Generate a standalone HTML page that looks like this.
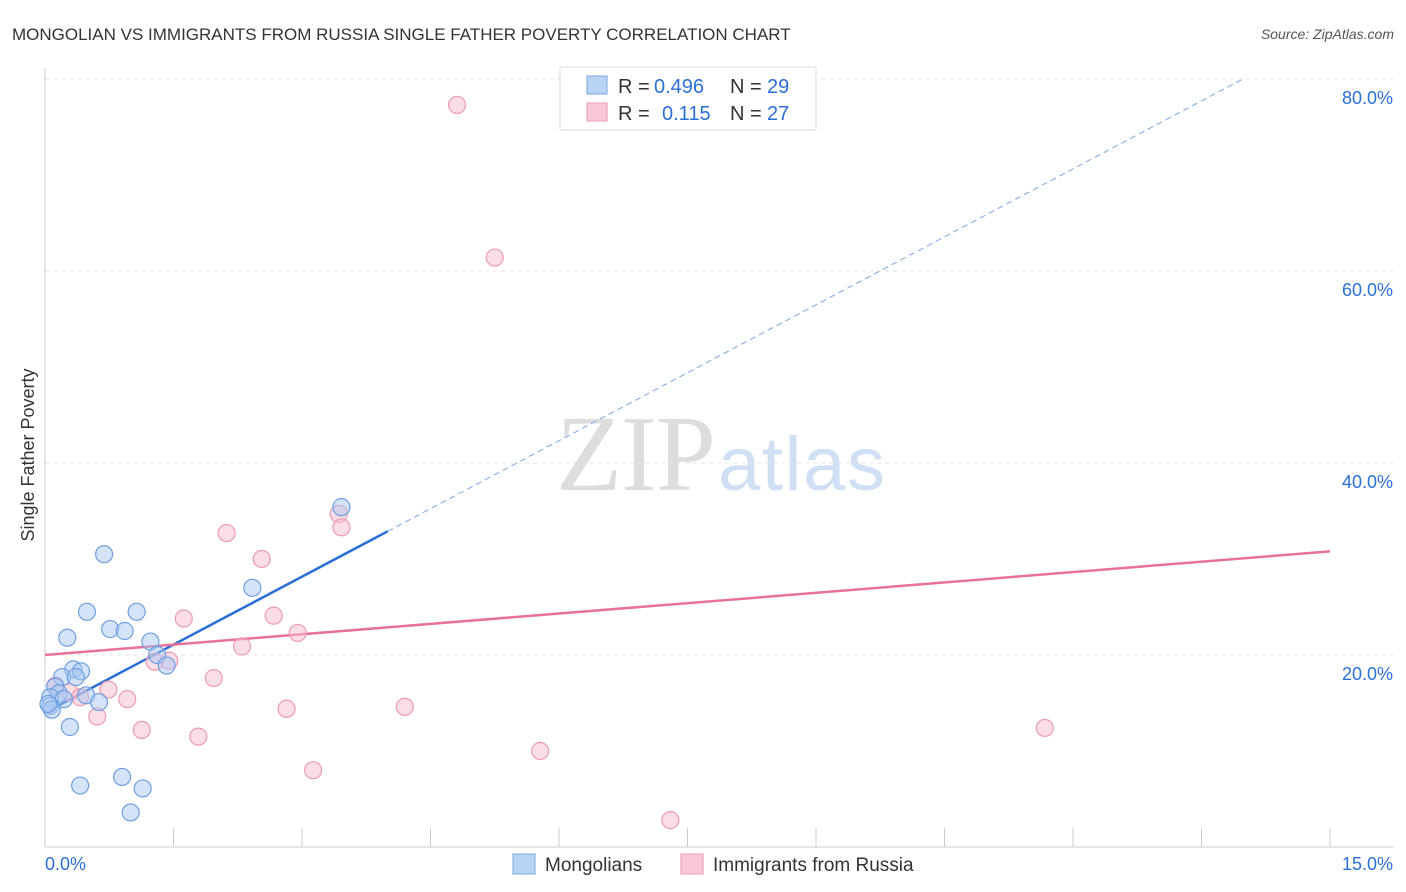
<!DOCTYPE html>
<html><head><meta charset="utf-8"><style>
body{margin:0;background:#fff;font-family:"Liberation Sans",sans-serif}
svg{display:block}
</style></head><body>
<svg id="chart" width="1406" height="892">
<text x="12" y="40" font-size="17" fill="#333">MONGOLIAN VS IMMIGRANTS FROM RUSSIA SINGLE FATHER POVERTY CORRELATION CHART</text>
<text x="1394" y="39" font-size="14" fill="#555" font-style="italic" text-anchor="end">Source: ZipAtlas.com</text>
<text x="716" y="490" font-size="108" fill="#ddd" font-family="Liberation Serif" text-anchor="end" textLength="160">ZIP</text>
<text x="718" y="490" font-size="76" fill="#cfe0f5" textLength="167">atlas</text>
<g id="grid"></g><g id="axes"></g><g id="lines"></g><g id="pts"></g>
<text transform="translate(34,455) rotate(-90)" font-size="18" fill="#333" text-anchor="middle">Single Father Poverty</text>
<g>
<rect x="560" y="67" width="256" height="63" fill="#fff" stroke="#ddd"/>
<rect x="587" y="76" width="20" height="18" fill="#b9d3f5" stroke="#7aa7e0"/>
<rect x="587" y="103" width="20" height="18" fill="#f9c8d6" stroke="#ec9ab3"/>
<text x="618" y="93" font-size="20" fill="#333">R =</text>
<text x="654" y="93" font-size="20" fill="#2b6fd6">0.496</text>
<text x="730" y="93" font-size="20" fill="#333">N =</text>
<text x="767" y="93" font-size="20" fill="#2b6fd6">29</text>
<text x="618" y="120" font-size="20" fill="#333">R =</text>
<text x="662" y="120" font-size="20" fill="#2b6fd6">0.115</text>
<text x="730" y="120" font-size="20" fill="#333">N =</text>
<text x="767" y="120" font-size="20" fill="#2b6fd6">27</text>
</g>
<g>
<rect x="513" y="854" width="22" height="20" fill="#b9d3f5" stroke="#7aa7e0"/>
<text x="545" y="871" font-size="19" fill="#333">Mongolians</text>
<rect x="681" y="854" width="22" height="20" fill="#f9c8d6" stroke="#ec9ab3"/>
<text x="713" y="871" font-size="19" fill="#333">Immigrants from Russia</text>
</g>
</svg>
<script>
const xTicks=[0,1.5,3,4.5,6,7.5,9,10.5,12,13.5,15];
const yTicks=[20,40,60,80];
const yTickLabels=["20.0%","40.0%","60.0%","80.0%"];
const xEndLabels=["0.0%","15.0%"];
const blueX=[3.46,0.69,2.42,0.49,1.07,0.76,0.93,0.26,1.23,1.31,1.42,0.33,0.42,0.20,0.36,0.12,0.16,0.48,0.06,0.63,0.22,0.06,0.08,0.29,0.90,0.41,1.14,1.00,0.04];
const blueY=[35.4,30.5,27.0,24.5,24.5,22.7,22.5,21.8,21.4,20.0,18.9,18.5,18.3,17.7,17.7,16.7,16.0,15.8,15.6,15.1,15.4,14.7,14.3,12.5,7.3,6.4,6.1,3.6,14.9];
const pinkX=[4.81,5.25,3.43,3.46,2.12,2.53,2.67,1.62,2.95,2.30,1.45,1.28,1.97,0.12,0.74,0.29,0.41,0.96,4.20,2.82,0.61,1.13,1.79,11.67,5.78,3.13,7.30];
const pinkY=[77.3,61.4,34.7,33.3,32.7,30.0,24.1,23.8,22.3,20.9,19.4,19.3,17.6,16.8,16.4,16.1,15.6,15.4,14.6,14.4,13.6,12.2,11.5,12.4,10.0,8.0,2.8];
const blueTrend=[14.0,4.72];
const pinkTrend=[20.0,0.72];
const X=v=>45+v*(1285/15), Y=v=>847-v*9.6;
const NS="http://www.w3.org/2000/svg";
function mk(p,t,a){const e=document.createElementNS(NS,t);for(const k in a)e.setAttribute(k,a[k]);document.getElementById(p).appendChild(e);return e;}
yTicks.forEach((t,i)=>{
 const g=mk('grid','line',{x1:45,x2:1394,y1:Y(t),y2:Y(t),stroke:'#e3e3e3','stroke-dasharray':'4,4'});
 
 
 const l=mk('axes','text',{x:1393,y:Y(t)+25,'font-size':18,fill:'#2b6fd6','text-anchor':'end'});l.textContent=yTickLabels[i];
 
 
});
const ax=mk('axes','line',{x1:45,x2:45,y1:68,y2:847,stroke:'#ccc'});


const bx=mk('axes','line',{x1:45,x2:1394,y1:847,y2:847,stroke:'#ccc'});


xTicks.forEach(t=>{const e=mk('axes','line',{x1:X(t),x2:X(t),y1:828,y2:847,stroke:'#ccc'});
 
 });
const l0=mk('axes','text',{x:45,y:870,'font-size':18,fill:'#2b6fd6'});l0.textContent=xEndLabels[0];


const l1=mk('axes','text',{x:1393,y:870,'font-size':18,fill:'#2b6fd6','text-anchor':'end'});l1.textContent=xEndLabels[1];


function dots(xs,ys,f,s,name){xs.forEach((x,i)=>{const c=mk('pts','circle',{cx:X(x),cy:Y(ys[i]),r:8.5,fill:f,'fill-opacity':0.5,stroke:s,'stroke-width':1.2});
 
 });}
dots(pinkX,pinkY,'#f7bccd','#ec9ab3','russia-point');
dots(blueX,blueY,'#a9c8f2','#6f9fe0','mongolian-point');
const bEnd=(80-blueTrend[0])/blueTrend[1];
const b1=mk('lines','line',{x1:X(0.05),y1:Y(blueTrend[0]+blueTrend[1]*0.05),x2:X(4),y2:Y(blueTrend[0]+blueTrend[1]*4),stroke:'#2a6fd6','stroke-width':2.5});


const b2=mk('lines','line',{x1:X(4),y1:Y(blueTrend[0]+blueTrend[1]*4),x2:X(bEnd),y2:Y(80),stroke:'#7aa7e0','stroke-width':1,'stroke-dasharray':'6,4'});


const p1=mk('lines','line',{x1:X(0),y1:Y(pinkTrend[0]),x2:X(15),y2:Y(pinkTrend[0]+pinkTrend[1]*15),stroke:'#e8719a','stroke-width':2.5});


</script>
</body></html>
